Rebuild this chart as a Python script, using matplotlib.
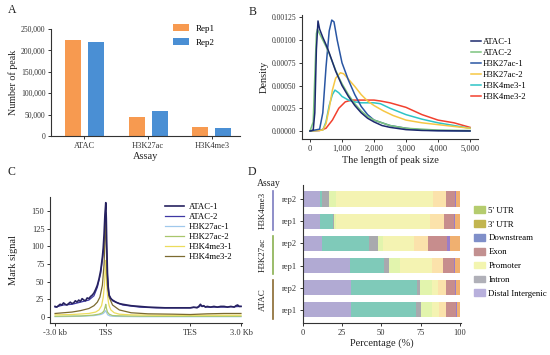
import numpy as np
import matplotlib
matplotlib.use("Agg")
import matplotlib.pyplot as plt
import matplotlib.transforms as mtransforms
from matplotlib.patches import Patch
from matplotlib.ticker import FuncFormatter

plt.rcParams['font.family'] = ['Liberation Serif', 'DejaVu Serif']
plt.rcParams['axes.linewidth'] = 0.8
plt.rcParams['xtick.major.size'] = 2.5
plt.rcParams['ytick.major.size'] = 2.5
plt.rcParams['xtick.major.width'] = 0.7
plt.rcParams['ytick.major.width'] = 0.7

# ---- panel A data ----
assays = ["ATAC", "H3K27ac", "H3K4me3"]
rep1_peaks = [224000, 45500, 22000]
rep2_peaks = [218500, 59500, 19500]

# ---- panel B data (peak length density) ----
dens_names = ["ATAC-1", "ATAC-2", "H3K27ac-1", "H3K27ac-2", "H3K4me3-1", "H3K4me3-2"]
dens_colors = ["#1c2a6e", "#7cc47e", "#2956a3", "#f6c744", "#2ec4c6", "#f2402e"]
atac1_x = [0, 100, 150, 200, 250, 300, 400, 500, 600, 700, 800, 900, 1000, 1200, 1400, 1600, 1800, 2000, 2250, 2500, 3000, 3500, 4000, 5000]
atac1_y = [0, 0.00001, 0.0002, 0.0009, 0.00121, 0.00112, 0.00103, 0.00095, 0.00086, 0.00076, 0.00066, 0.00058, 0.0005, 0.00038, 0.00028, 0.0002, 0.00014, 0.0001, 0.00006, 0.00004, 0.000015, 0.000006, 0.000003, 0.000001]
atac2_x = [0, 100, 150, 200, 230, 300, 400, 500, 600, 700, 800, 900, 1000, 1200, 1400, 1600, 1800, 2000, 2500, 3000, 4000, 5000]
atac2_y = [0, 0.0001, 0.0006, 0.00107, 0.00112, 0.00107, 0.001, 0.00093, 0.00085, 0.00076, 0.00067, 0.00059, 0.00052, 0.0004, 0.0003, 0.00022, 0.00016, 0.00012, 0.00006, 0.00003, 0.00001, 0.000005]
k27_1_x = [0, 300, 400, 500, 600, 680, 750, 850, 1000, 1200, 1400, 1600, 1800, 2000, 2500, 3000, 3500, 4000, 5000]
k27_1_y = [0, 0.00002, 0.0002, 0.0007, 0.0011, 0.00122, 0.0012, 0.001, 0.00075, 0.00056, 0.0004, 0.00027, 0.00018, 0.00012, 0.00006, 0.00003, 0.00001, 0.000005, 0]
k27_2_x = [0, 400, 500, 600, 700, 800, 950, 1050, 1200, 1400, 1600, 1800, 2000, 2300, 2600, 3000, 3500, 4000, 4500, 5000]
k27_2_y = [0, 0.00001, 0.00008, 0.00025, 0.00045, 0.00058, 0.00064, 0.00063, 0.00057, 0.00049, 0.0004, 0.00033, 0.00028, 0.00022, 0.00017, 0.00012, 0.00009, 0.00007, 0.00005, 0.00003]
k4_1_x = [0, 400, 500, 600, 700, 780, 900, 1000, 1200, 1400, 1600, 2000, 2200, 2500, 3000, 3500, 4000, 4500, 5000]
k4_1_y = [0, 0.00001, 0.0001, 0.00028, 0.0004, 0.00045, 0.00042, 0.00038, 0.00034, 0.00032, 0.00031, 0.00031, 0.0003, 0.00025, 0.00018, 0.00013, 0.00009, 0.00006, 0.00003]
k4_2_x = [0, 300, 500, 700, 900, 1100, 1300, 1600, 2000, 2200, 2500, 2800, 3000, 3500, 4000, 4500, 5000]
k4_2_y = [0, 0.000005, 0.00003, 0.00012, 0.00025, 0.00032, 0.00034, 0.00034, 0.00034, 0.00033, 0.00031, 0.00028, 0.00026, 0.00018, 0.00012, 0.00009, 0.00004]

# ---- panel C data (profile around gene body, bins of 10 bp) ----
prof_names = ["ATAC-1", "ATAC-2", "H3K27ac-1", "H3K27ac-2", "H3K4me3-1", "H3K4me3-2"]
prof_colors = ["#272260", "#3d37a3", "#a0c8ec", "#a9c66c", "#ecdc5c", "#7b6a30"]
p_atac1_x = [0, 10, 20, 30, 40, 50, 60, 70, 80, 90, 100, 110, 120, 130, 140, 150, 160, 170, 180, 190, 200, 210, 220, 230, 240, 250, 260, 270, 280, 285, 290, 295, 300, 303, 306, 310, 315, 320, 330, 340, 360, 380, 400, 450, 500, 550, 600, 650, 700, 750, 800, 820, 840, 850, 860, 870, 880, 890, 900, 920, 940, 960, 980, 1000, 1020, 1040, 1060, 1070, 1080, 1090, 1100]
p_atac1_y = [15, 14, 16, 18, 17, 20, 18, 17, 19, 21, 19, 20, 23, 21, 24, 22, 26, 24, 23, 27, 26, 29, 31, 34, 39, 45, 54, 66, 85, 98, 118, 145, 162, 140, 100, 62, 40, 31, 26, 24, 21, 19, 18, 16, 15, 14, 13.5, 13, 13, 13, 13, 14, 13, 15, 18, 15, 16, 14, 15, 14, 15, 14, 15, 15, 14, 15, 14, 16, 17, 15, 15]
p_atac2_x = [0, 50, 100, 150, 200, 230, 250, 270, 285, 295, 300, 305, 310, 320, 340, 400, 500, 600, 800, 850, 860, 900, 1000, 1100]
p_atac2_y = [14, 17, 18, 21, 24, 30, 42, 62, 90, 120, 135, 95, 58, 30, 23, 17, 14, 13, 13, 14, 16, 14, 14, 15]
p_k27_1_x = [0, 150, 230, 270, 285, 293, 300, 305, 312, 325, 360, 500, 1100]
p_k27_1_y = [0.5, 1, 2, 3.5, 5, 7, 9, 6, 3, 1.5, 0.8, 0.5, 0.5]
p_k27_2_x = [0, 150, 220, 260, 280, 290, 296, 300, 304, 310, 320, 340, 400, 600, 1100]
p_k27_2_y = [1, 1.5, 2.5, 4, 6, 9, 14, 18, 12, 7, 4, 2, 1.5, 1, 1]
p_k4_1_x = [0, 100, 200, 240, 260, 275, 285, 292, 297, 300, 303, 306, 310, 315, 320, 330, 350, 380, 450, 600, 1100]
p_k4_1_y = [3, 3.5, 5, 7, 10, 16, 28, 45, 68, 80, 62, 45, 32, 22, 16, 10, 6, 4, 3, 2.5, 2.5]
p_k4_2_x = [0, 100, 150, 200, 230, 250, 265, 280, 290, 295, 300, 303, 306, 310, 320, 340, 380, 450, 550, 700, 800, 900, 1000, 1100]
p_k4_2_y = [5, 7, 9, 12, 16, 21, 28, 45, 75, 110, 148, 110, 70, 45, 28, 17, 10, 6, 4.5, 4, 3.5, 4.5, 5, 5]
prof_ticks = [0, 300, 800, 1100]
prof_ticklabels = ["-3.0 kb", "TSS", "TES", "3.0 Kb"]

# ---- panel D data (annotation percentages), rows bottom to top ----
row_labels = ["rep1", "rep2", "rep1", "rep2", "rep1", "rep2"]
seg_names = ["Distal Intergenic", "Other Intron", "1st Intron", "Promoter (2-3kb)", "Promoter (<=1kb)",
             "Promoter (1-2kb)", "Exon", "Downstream", "3' UTR"]
seg_colors = ["#b1aad3", "#7fcab9", "#a9a9ae", "#e2f4ad", "#f4f3b2", "#fbe2ab", "#c78d8d", "#9a7dc8", "#f0b070"]
seg_values = np.array([
    [31, 41, 3, 7, 5, 4, 6.5, 0.5, 2],      # ATAC rep1
    [31, 42, 1.5, 7.5, 4, 5, 6, 0.5, 2.5],  # ATAC rep2
    [30, 22, 3, 7, 20, 7, 7, 1, 3],         # H3K27ac rep1
    [12, 30, 6, 3, 20, 9, 12, 1.5, 6.5],    # H3K27ac rep2
    [11, 8, 1, 1, 60, 9, 6, 1, 3],          # H3K4me3 rep1
    [11, 1, 5, 4, 62, 8, 6, 0.5, 2.5],      # H3K4me3 rep2
])
legend_names = ["5' UTR", "3' UTR", "Downstream", "Exon", "Promoter", "Intron", "Distal Intergenic"]
legend_colors = ["#b5cc6e", "#c2b54f", "#7f8fc9", "#c29090", "#f3f5b0", "#b0b0b8", "#b8b0dc"]
groups = ["ATAC", "H3K27ac", "H3K4me3"]
group_colors = ["#8a6a30", "#8ab050", "#7b7bc0"]

W, H = 550, 355
fig = plt.figure(figsize=(W / 100, H / 100), dpi=100)


def axes_px(l, t, r, b):
    return fig.add_axes([l / W, 1 - b / H, (r - l) / W, (b - t) / H])


def style(ax, size=6):
    for s in ["top", "right"]:
        ax.spines[s].set_visible(False)
    for s in ["left", "bottom"]:
        ax.spines[s].set_color("#333333")
    ax.tick_params(labelsize=size, colors="#333333", pad=1.5)


tcol = "#222222"

# ---------- A ----------
axA = axes_px(51, 29, 240, 136)
style(axA)
axA.tick_params(axis="y", labelsize=5.5)
xa = np.arange(len(assays))
axA.bar(xa - 0.18, rep1_peaks, 0.25, color="#f79a50", label="Rep1")
axA.bar(xa + 0.18, rep2_peaks, 0.25, color="#4a8fd4", label="Rep2")
axA.set_xlim(-0.52, 2.44)
axA.set_ylim(0, 250000)
axA.set_yticks(np.arange(0, 250001, 50000))
axA.yaxis.set_major_formatter(FuncFormatter(lambda v, p: f"{int(v):,}"))
axA.set_xticks(xa)
axA.set_xticklabels(assays)
axA.set_xlabel("Assay", fontsize=7.5, color=tcol, labelpad=2)
axA.set_ylabel("Number of peak", fontsize=7.2, color=tcol, labelpad=2)
axA.legend(loc="upper left", bbox_to_anchor=(0.6, 1.12), frameon=False, fontsize=6.5,
           handlelength=1.8, handleheight=0.8, labelspacing=0.6)

# ---------- B ----------
axB = axes_px(302, 14.6, 478, 139)
style(axB)
axB.tick_params(axis="y", labelsize=5.5)
dens_x = [atac1_x, atac2_x, k27_1_x, k27_2_x, k4_1_x, k4_2_x]
dens_y = [atac1_y, atac2_y, k27_1_y, k27_2_y, k4_1_y, k4_2_y]
for i in [5, 4, 3, 2, 1, 0]:
    axB.plot(dens_x[i], dens_y[i], color=dens_colors[i], lw=1.1, label=dens_names[i])
handles, labels = axB.get_legend_handles_labels()
axB.legend(handles[::-1], labels[::-1], loc="upper left", bbox_to_anchor=(0.94, 0.84), frameon=False,
           fontsize=6.3, handlelength=1.1, labelspacing=0.33, handletextpad=0.3, borderaxespad=0)
axB.set_xlim(-250, 5250)
axB.set_ylim(-0.000088, 0.00128)
axB.set_yticks(np.arange(0, 0.00126, 0.00025))
axB.yaxis.set_major_formatter(FuncFormatter(lambda v, p: f"{v:.5f}"))
axB.set_xticks(np.arange(0, 5001, 1000))
axB.xaxis.set_major_formatter(FuncFormatter(lambda v, p: f"{int(v):,}"))
axB.set_xlabel("The length of peak size", fontsize=7.5, color=tcol, labelpad=2)
axB.set_ylabel("Density", fontsize=7.5, color=tcol, labelpad=2)

# ---------- C ----------
axC = axes_px(50, 197, 242, 323)
style(axC)
prof_x = [p_atac1_x, p_atac2_x, p_k27_1_x, p_k27_2_x, p_k4_1_x, p_k4_2_x]
prof_y = [p_atac1_y, p_atac2_y, p_k27_1_y, p_k27_2_y, p_k4_1_y, p_k4_2_y]
lines = []
for i in range(6):
    ln, = axC.plot(prof_x[i], prof_y[i], color=prof_colors[i], lw=1.2 if i == 0 else 0.9,
                   label=prof_names[i], zorder=3 if i == 0 else 2)
    lines.append(ln)
axC.legend(lines, prof_names, loc="upper left", bbox_to_anchor=(0.58, 0.98), frameon=False,
           fontsize=6.3, handlelength=2.2, labelspacing=0.22, handletextpad=0.5, borderaxespad=0)
axC.set_xlim(-30, 1106)
axC.set_ylim(-8.5, 170)
axC.set_yticks(np.arange(0, 151, 25))
axC.set_xticks(prof_ticks)
axC.set_xticklabels(prof_ticklabels)
axC.set_ylabel("Mark signal", fontsize=7.5, color=tcol, labelpad=10)

# ---------- D ----------
axD = axes_px(302.7, 185, 460.7, 323)
style(axD)
ypos = np.arange(len(row_labels))
left = np.zeros(len(row_labels))
for j in range(len(seg_names)):
    axD.barh(ypos, seg_values[:, j], 0.68, left=left, color=seg_colors[j], linewidth=0)
    left += seg_values[:, j]
axD.set_xlim(0, 100.5)
axD.set_ylim(-0.59, 5.63)
axD.set_xticks([0, 25, 50, 75, 100])
axD.set_yticks(ypos)
axD.set_yticklabels(row_labels)
axD.set_xlabel("Percentage (%)", fontsize=7.5, color=tcol, labelpad=1)
axD.legend([Patch(color=c) for c in legend_colors], legend_names, loc="upper left",
           bbox_to_anchor=(1.065, 0.87), frameon=False, fontsize=6.3, handlelength=1.2,
           handleheight=0.8, labelspacing=0.62, handletextpad=0.4, borderaxespad=0)
trD = mtransforms.blended_transform_factory(axD.transAxes, axD.transData)
for g in range(3):
    y0, y1 = 2 * g - 0.4, 2 * g + 1.35
    axD.plot([-0.19, -0.19], [y0, y1], color=group_colors[g], lw=1.2, transform=trD, clip_on=False)
    axD.text(-0.255, (y0 + y1) / 2, groups[g], rotation=90, ha="center", va="center",
             fontsize=6.5, color=tcol, transform=trD)
fig.text(257 / W, 1 - 184 / H, "Assay", fontsize=7, color=tcol, va="center")

# panel letters
for lab, x, y in [("A", 8, 10), ("B", 249, 12), ("C", 8, 172), ("D", 248, 172)]:
    fig.text(x / W, 1 - y / H, lab, fontsize=8.5, color=tcol, va="center")

fig.savefig("out.png", dpi=100)
